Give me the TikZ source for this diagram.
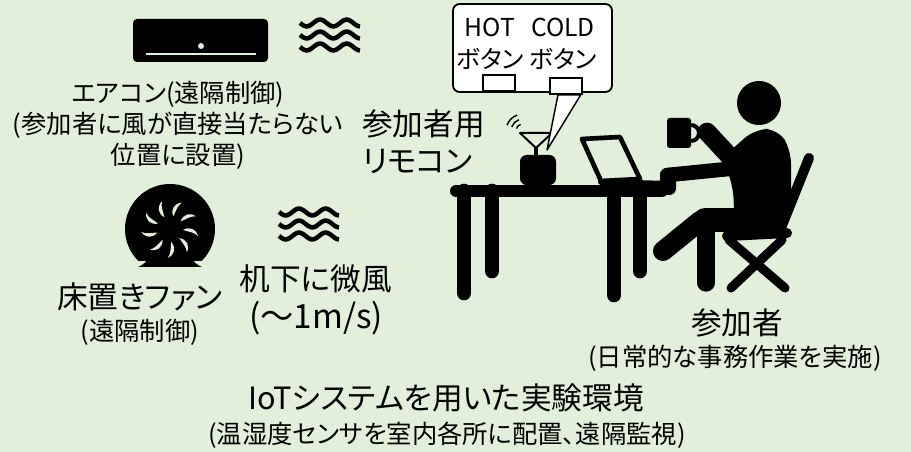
\documentclass[tikz,border=0pt]{standalone}
\usepackage{fontspec}
\setmainfont{Noto Sans CJK JP}[RawFeature={+palt}]
\usepackage{xcolor}
\usepackage{tikz}
\definecolor{bggreen}{HTML}{E2EFDA}
\tikzset{
  bigtext/.style={inner sep=0pt, font=\fontsize{23}{27}\selectfont},
  smalltext/.style={inner sep=0pt, font=\fontsize{19}{23.25}\selectfont},
  bubbletext/.style={inner sep=0pt, align=center, font=\fontsize{18.5}{24}\selectfont},
  button/.style={draw, fill=white, line width=1.4pt, minimum width=24pt, minimum height=12pt, inner sep=0pt},
  thick ink/.style={line width=#1, line cap=round},
  breeze/.pic={
    \foreach \row in {0,12,24}
      \draw[line width=3.4pt, line cap=butt] plot[domain=0:60, samples=41, smooth] (\x, {\row + 3.4*sin(\x*13.5)});
  },
}

\begin{document}
\begin{tikzpicture}[x=0.75pt, y=-0.75pt]
    % Sfondo
    \fill[bggreen] (0,0) rectangle (911,452);
    \useasboundingbox (0,0) rectangle (911,452);

    % Condizionatore a parete
    \fill[rounded corners=3pt] (133,19) rectangle (268,62);
    \draw[bggreen, line width=1.7pt] (146,54) -- (256,54);
    \fill[bggreen] (201,46) circle (3);
    \pic at (300,23) {breeze};

    % Ventilatore da pavimento
    \coordinate (fanhub) at (170,229);
    \begin{scope}
        \clip (110,170) rectangle (230,261);
        \fill (fanhub) circle (45);
    \end{scope}
    \fill (138,267) -- (202,267) to[bend left=20] (191,257) -- (149,257) to[bend left=20] (138,267) -- cycle;
    \foreach \a in {0,40,...,320}
        \fill[bggreen, shift={(fanhub)}, rotate=\a] (13,1) .. controls (20,-3) and (26,0) .. (28,7) .. controls (24,3) and (19,3) .. (13,1) -- cycle;
    \pic at (279,212) {breeze};

    % Scrivania
    \draw[thick ink=9pt] (456,191) -- (662,191);
    \foreach \legx/\legy in {464/293, 492/271, 614/295, 640/271}
        \draw[thick ink=11pt] (\legx,191) -- (\legx,\legy);

    % Portatile
    \draw[line width=3.5pt, line join=round] (582,139) -- (620,137) -- (640,179) -- (601,181) -- cycle;
    \draw[thick ink=4.5pt] (601,182) -- (668,184);

    % Telecomando con antenna
    \coordinate (wifi) at (523,131);
    \foreach \r in {7,12,17}
        \draw[line width=1.1pt] (wifi) ++(200:\r) arc[start angle=200, end angle=250, radius=\r];
    \draw[line width=1.5pt, line join=round] (520,133) -- (552,133) -- (536,148) -- cycle;
    \draw[line width=2.5pt] (536,146) -- (536,158);
    \fill[rounded corners=5pt] (520,155) rectangle (556,185);

    % Fumetto con i pulsanti
    \draw[line width=1.4pt, fill=white, rounded corners=5pt] (453,4) rectangle (612,92);
    \node[bubbletext] (hottext) at (490,44) {HOT\\ボタン};
    \node[bubbletext] (coldtext) at (563,44) {COLD\\ボタン};
    \coordinate (sigtip) at (547,150);
    \node[button] (coldbtn) at (566,86) {};
    \filldraw[fill=white, line width=1.1pt, line join=round] ([xshift=-6pt]coldbtn.south) -- (sigtip) -- ([xshift=11pt]coldbtn.south) -- cycle;
    \node[button] (coldbtn) at (566,86) {};
    \node[button] (hotbtn) at (499,83) {};

    % Partecipante
    \fill (759,103) circle (22);
    \fill[rounded corners=2pt] (667,118) rectangle (691,148);
    \draw[line width=3pt] (691,125) arc[start angle=-90, end angle=90, radius=8];
    \draw[thick ink=14pt] (707,132) -- (733,160);
    \fill[rounded corners=10pt] (722,158) -- (755,129) -- (778,129) -- (791,150) -- (791,212) -- (780,233) -- (735,233) -- (733,185) -- cycle;
    \draw[thick ink=18pt] (772,220) -- (705,220);
    \draw[thick ink=15pt] (700,221) -- (663,251);
    \draw[thick ink=13pt] (706,220) -- (706,283);
    \draw[thick ink=11pt] (668,175) -- (738,168);
    \fill[rounded corners=5pt] (660,168) rectangle (676,195);

    % Sedia
    \draw[thick ink=7.5pt] (809,158) -- (779,233);
    \draw[thick ink=7.5pt] (727,236) -- (787,233);
    \draw[thick ink=6.8pt] (729,240) -- (785,288);
    \draw[thick ink=6.8pt] (782,240) -- (731,288);

    % Etichette
    \node[smalltext, align=center] (aclabel) at (178,125) {エアコン(遠隔制御)\\(参加者に風が直接当たらない\\位置に設置)};
    \node[bigtext, align=left, anchor=west, font=\fontsize{23}{27.75}\selectfont] (remotelabel) at (362,141.5) {参加者用\\リモコン};
    \node[bigtext] (fanlabel) at (140,297) {床置きファン};
    \node[smalltext] (fannote) at (140,332) {(遠隔制御)};
    \node[bigtext] (breezelabel) at (316,279) {机下に微風};
    \node[bigtext, font=\fontsize{25}{30}\selectfont] (breezespeed) at (316,318) {(～1m/s)};
    \node[bigtext] (personlabel) at (737,323) {参加者};
    \node[smalltext] (personnote) at (735,358) {(日常的な事務作業を実施)};
    \node[bigtext] (title) at (446,398) {IoTシステムを用いた実験環境};
    \node[smalltext] (titlenote) at (447,435) {(温湿度センサを室内各所に配置、遠隔監視)};
\end{tikzpicture}
\end{document}
